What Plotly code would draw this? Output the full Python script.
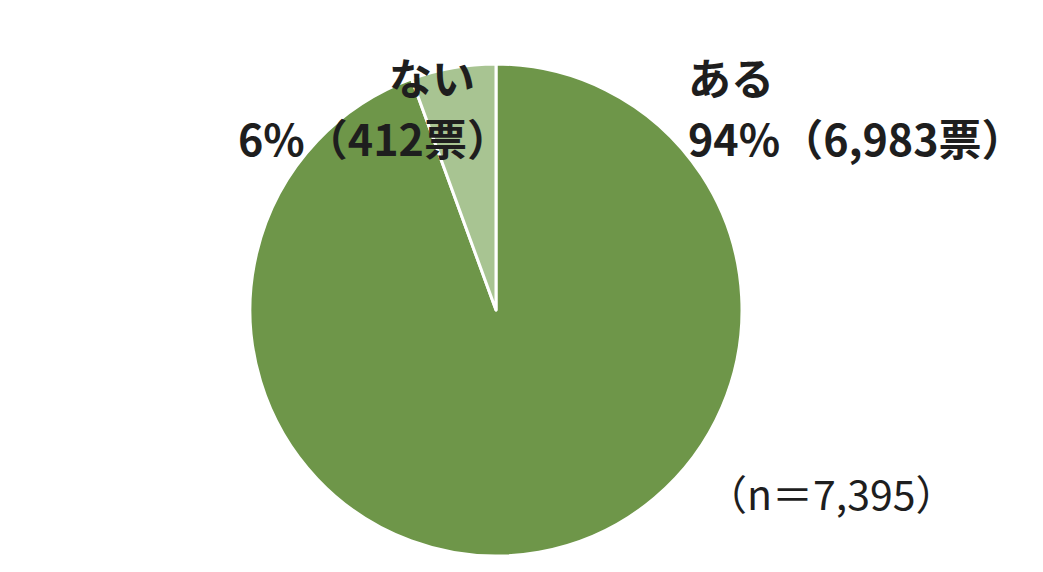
import plotly.graph_objects as go

labels = ["ある", "ない"]
votes = [6983, 412]
percents = ["94%", "6%"]
colors = ["#6e9649", "#a8c492"]
total_n = 7395

W, H = 1043, 572
fig = go.Figure()
fig.add_trace(go.Pie(
    labels=labels, values=votes, sort=False, direction="clockwise", rotation=0,
    marker=dict(colors=colors, line=dict(color="white", width=3)),
    textinfo="none", hoverinfo="label+value+percent", showlegend=False,
    domain=dict(x=[250 / W, 742 / W], y=[(H - 556) / H, (H - 64) / H]),
))

font_b = "Noto Sans CJK JP"
def ann(text, x, y, xanchor, size, weight=700):
    fig.add_annotation(
        text=text,
        x=x / W, y=1 - y / H, xref="paper", yref="paper",
        xanchor=xanchor, yanchor="middle", showarrow=False,
        font=dict(family=font_b, size=size, color="#1e1e1e", weight=weight),
    )

ann(labels[1], 432, 76, "center", 43)
ann(f"{percents[1]}（{votes[1]}票）", 512, 137, "right", 43)
ann(labels[0], 686, 76, "left", 43)
ann(f"{percents[0]}（{votes[0]:,}票）", 686, 137, "left", 43)
ann(f"（n＝{total_n:,}）", 958, 492, "right", 41, weight=400)

fig.update_layout(
    width=W, height=H, margin=dict(l=0, r=0, t=0, b=0),
    paper_bgcolor="white", plot_bgcolor="white",
)
fig.write_html("out.html", config={"displayModeBar": False},
               post_script="document.body.style.margin='0';")
